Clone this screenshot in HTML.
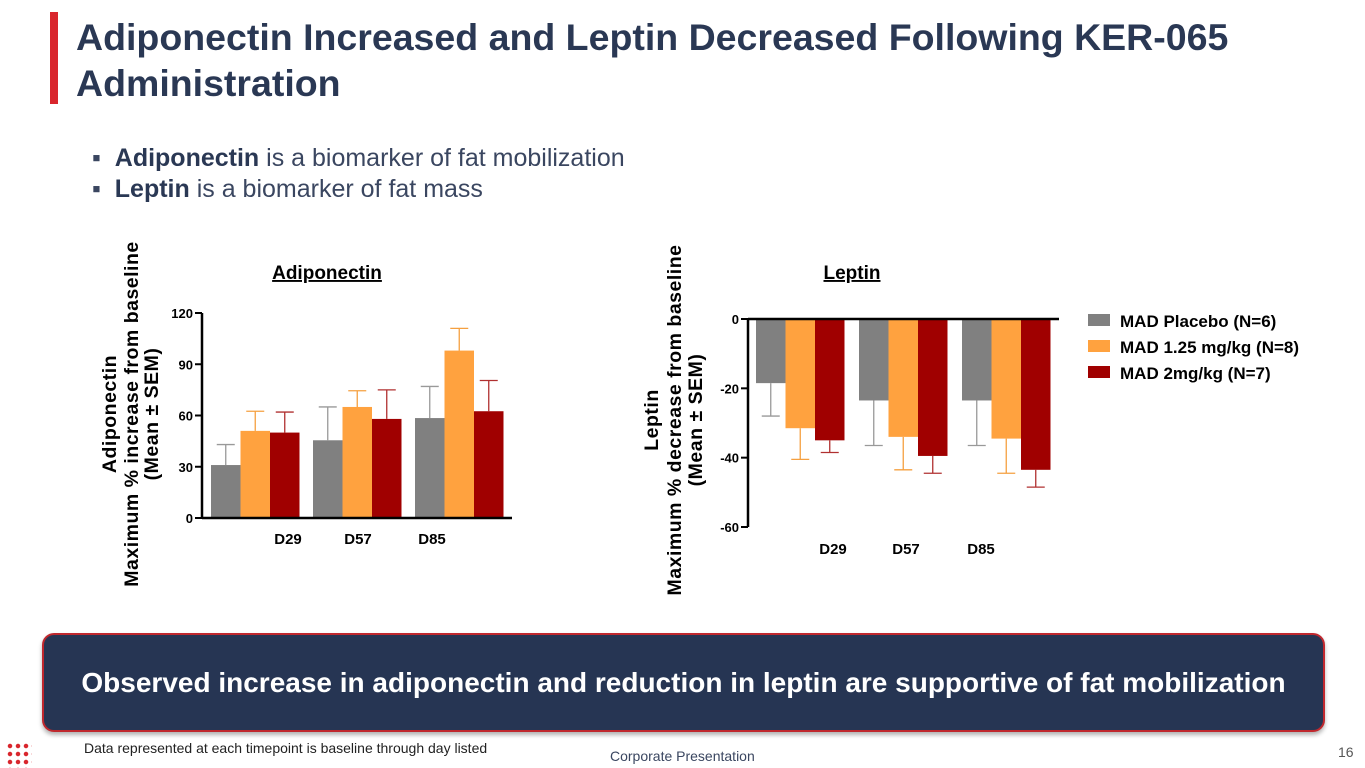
<!DOCTYPE html>
<html><head><meta charset="utf-8"><style>
body{margin:0;width:1365px;height:768px;background:#fff;position:relative;overflow:hidden;font-family:"Liberation Sans",sans-serif}
.abs{position:absolute}
#title{left:76px;top:14px;font-size:37.5px;font-weight:bold;color:#2a3854;line-height:46px;white-space:nowrap}
.bul{left:92px;font-size:25px;color:#3a4660;white-space:nowrap}
.bul b{color:#2a3854}
#banner{left:42px;top:633px;width:1279px;height:95px;background:#263553;border:2px solid #c0282e;border-radius:12px;box-shadow:0 3px 4px rgba(0,0,0,.3);color:#fff;font-weight:bold;font-size:28px;text-align:center;line-height:95px;white-space:nowrap}
</style></head><body>
<div class="abs" style="left:50px;top:12px;width:8px;height:92px;background:#d9262d"></div>
<div id="title" class="abs">Adiponectin Increased and Leptin Decreased Following KER-065<br>Administration</div>
<div class="abs bul" style="top:144px">▪&nbsp;&nbsp;<b>Adiponectin</b> is a biomarker of fat mobilization</div>
<div class="abs bul" style="top:175px">▪&nbsp;&nbsp;<b>Leptin</b> is a biomarker of fat mass</div>
<svg class="abs" style="left:0;top:0" width="1365" height="620" font-family="Liberation Sans, sans-serif" font-weight="bold">
<g id="left"></g><g id="right"></g><g id="legend"></g>
</svg>
<div id="banner" class="abs">Observed increase in adiponectin and reduction in leptin are supportive of fat mobilization</div>
<div class="abs" style="left:84px;top:740px;font-size:14px;color:#222">Data represented at each timepoint is baseline through day listed</div>
<div class="abs" style="left:610px;top:748px;font-size:14px;color:#3a4660">Corporate Presentation</div>
<div class="abs" style="left:1338px;top:744px;font-size:14px;color:#555">16</div>
<div class="abs" style="left:6px;top:742px;width:26px;height:26px;background:radial-gradient(circle,#d9262d 2px,transparent 2.5px) 0 0/8px 8px"></div>
<script>
const categories=["D29","D57","D85"];
const seriesNames=["MAD Placebo (N=6)","MAD 1.25 mg/kg (N=8)","MAD 2mg/kg (N=7)"];
const colors=["#808080","#ffa23f","#a00000"];
const errColors=["#999","#f5a040","#b03030"];
const adipoPlacebo=[31,45.5,58.5],adipoLow=[51,65,98],adipoHigh=[50,58,62.5];
const adipoPlaceboErr=[12,19.5,18.5],adipoLowErr=[11.5,9.5,13],adipoHighErr=[12,17,18];
const adipoTicks=[0,30,60,90,120];
const leptinPlacebo=[-18.5,-23.5,-23.5],leptinLow=[-31.5,-34,-34.5],leptinHigh=[-35,-39.5,-43.5];
const leptinPlaceboErr=[9.5,13,13],leptinLowErr=[9,9.5,10],leptinHighErr=[3.5,5,5];
const leptinTicks=[0,-20,-40,-60];
const NS="http://www.w3.org/2000/svg";
function mk(p,t,a){const e=document.createElementNS(NS,t);for(const k in a)e.setAttribute(k,a[k]);p.appendChild(e);return e;}
function chart(g,o){
 const y=v=>o.y0+(v-o.vmin)/(o.vmax-o.vmin)*(o.y1-o.y0);
 const series=o.series,errs=o.errs;
 series.forEach((s,si)=>s.forEach((v,ci)=>{
  const x=o.gx+ci*o.step+si*o.bw, base=y(0), top=y(v);
  const r=mk(g,'rect',{x:x,y:Math.min(base,top),width:o.bw,height:Math.abs(top-base),fill:colors[si]});
  
  
  const ev=v+(v<0?-errs[si][ci]:errs[si][ci]), ey=y(ev), cx=x+o.bw/2;
  const l=mk(g,'path',{d:`M${cx} ${top}V${ey}M${cx-9} ${ey}H${cx+9}`,stroke:errColors[si],'stroke-width':1.3,fill:'none'});
  
  
 }));
 mk(g,'path',{d:`M${o.ax} ${Math.min(o.y0,o.y1)}V${Math.max(o.y0,o.y1)}M${o.ax} ${y(o.xaxisAt)}H${o.axEnd}`,stroke:'#000','stroke-width':2.5,fill:'none'});
 o.ticks.forEach(t=>{mk(g,'line',{x1:o.ax-7,x2:o.ax,y1:y(t),y2:y(t),stroke:'#000','stroke-width':2});
  const tx=mk(g,'text',{x:o.ax-9,y:y(t)+5,'text-anchor':'end','font-size':13});tx.textContent=t;
  });
 categories.forEach((c,i)=>{const t=mk(g,'text',{x:o.lx[i],y:o.ly,'text-anchor':'middle','font-size':15});t.textContent=c;
  });
 const tt=mk(g,'text',{x:o.tx,y:o.ty,'text-anchor':'middle','font-size':19,'text-decoration':'underline'});tt.textContent=o.title;
 
 o.ylab.forEach((s,i)=>{const t=mk(g,'text',{transform:`translate(${o.ylx[i]},${o.yly}) rotate(-90)`,'text-anchor':'middle','font-size':19.5,'letter-spacing':'0.5'});t.textContent=s;
  });
}
chart(document.getElementById('left'),{id:'adiponectin',vmin:0,vmax:120,y0:518,y1:313,gx:211,step:102,bw:29.5,ax:202,axEnd:512,xaxisAt:0,
 series:[adipoPlacebo,adipoLow,adipoHigh],errs:[adipoPlaceboErr,adipoLowErr,adipoHighErr],ticks:adipoTicks,
 lx:[288,358,432],ly:544,title:'Adiponectin',tx:327,ty:279,ylab:['Adiponectin','Maximum % increase from baseline','(Mean ±  SEM)'],ylx:[116,138,158],yly:414});
chart(document.getElementById('right'),{id:'leptin',vmin:0,vmax:-60,y0:319,y1:527,gx:756,step:103,bw:29.5,ax:748,axEnd:1059,xaxisAt:0,
 series:[leptinPlacebo,leptinLow,leptinHigh],errs:[leptinPlaceboErr,leptinLowErr,leptinHighErr],ticks:leptinTicks,
 lx:[833,906,981],ly:554,title:'Leptin',tx:852,ty:279,ylab:['Leptin','Maximum % decrease from baseline','(Mean ±  SEM)'],ylx:[658,681,702],yly:420});
const lg=document.getElementById('legend');
seriesNames.forEach((n,i)=>{const r=mk(lg,'rect',{x:1088,y:314+i*26,width:22,height:12,fill:colors[i]});
 
 const t=mk(lg,'text',{x:1120,y:327+i*26,'font-size':17});t.textContent=n;
 });
</script>
</body></html>
